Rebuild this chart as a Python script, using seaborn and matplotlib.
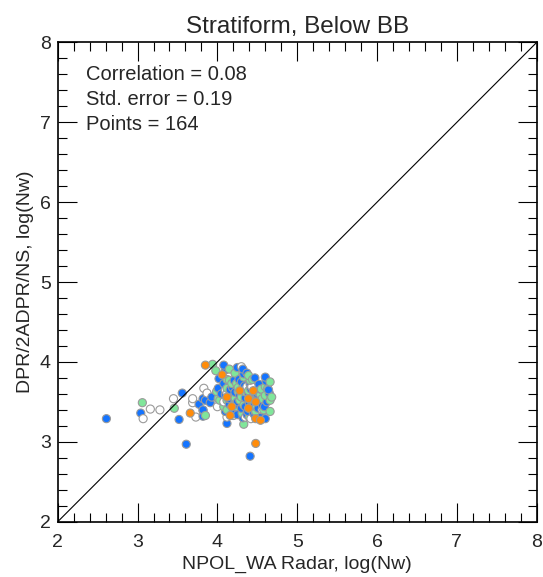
import matplotlib
matplotlib.use('AGG')
import matplotlib.pyplot as plt
import seaborn as sns
import pandas as pd
from matplotlib.ticker import MultipleLocator

# values, log(Nw)
white_x = [3.07, 3.16, 3.28, 3.45, 3.69, 3.69, 3.73, 3.83, 3.87, 4.43,
           4.10, 4.12, 4.08, 4.35, 4.42, 4.12, 4.30, 4.37, 4.20, 4.56, 4.00]
white_y = [3.29, 3.41, 3.40, 3.54, 3.54, 3.49, 3.31, 3.67, 3.61, 3.69,
           3.65, 3.61, 3.50, 3.31, 3.29, 3.31, 3.94, 3.69, 3.33, 3.40, 3.44]

blue_x = [2.61, 3.61, 4.41, 3.04, 3.52, 3.56, 3.82, 3.77, 3.82, 3.91,
          3.93, 4.08, 4.25, 4.32, 4.02, 4.33, 4.60, 4.61, 4.21, 4.30,
          4.41, 4.08, 4.37, 4.54, 4.65, 4.20, 4.43, 4.35, 4.10, 4.01,
          4.10, 3.85, 3.82, 4.10, 4.12, 4.14, 4.52, 4.39, 4.55, 4.62,
          4.43, 4.51, 4.20, 4.45, 4.25, 4.37, 4.55, 4.60, 4.37, 4.59,
          4.47, 4.64, 4.16, 4.26, 4.47,
          4.22, 4.28, 4.35, 4.40, 4.46, 4.30, 4.25, 4.18, 4.50, 4.42,
          4.34, 4.27, 4.19, 4.56, 4.38, 4.32, 4.47, 4.15, 4.52, 4.05]
blue_y = [3.29, 2.97, 2.82, 3.36, 3.28, 3.61, 3.32, 3.47, 3.54, 3.49,
          3.56, 3.96, 3.93, 3.91, 3.79, 3.85, 3.81, 3.76, 3.77, 3.75,
          3.72, 3.73, 3.67, 3.66, 3.61, 3.56, 3.50, 3.44, 3.90, 3.67,
          3.59, 3.52, 3.40, 3.38, 3.23, 3.54, 3.56, 3.61, 3.54, 3.50,
          3.44, 3.42, 3.38, 3.36, 3.34, 3.34, 3.31, 3.29, 3.86, 3.44,
          3.61, 3.65, 3.65, 3.47, 3.80,
          3.62, 3.58, 3.55, 3.48, 3.45, 3.42, 3.50, 3.58, 3.58, 3.66,
          3.70, 3.78, 3.68, 3.47, 3.38, 3.30, 3.33, 3.47, 3.72, 3.60]

green_x = [3.06, 3.46, 3.82, 3.94, 4.15, 3.98, 4.39, 4.15, 4.41, 4.24,
           3.99, 4.26, 4.49, 4.63, 4.28, 4.56, 4.66, 4.03, 4.24, 4.60,
           4.43, 4.68, 4.22, 4.12, 4.43, 4.47, 4.12, 4.31, 4.58, 4.66,
           4.33, 4.01, 4.12, 3.85, 4.33, 4.66, 4.39, 4.54, 4.49,
           4.20, 4.30, 4.36, 4.44, 4.26, 4.48, 4.18, 4.55, 4.33, 4.40,
           4.08, 4.60, 4.22, 4.44, 4.12]
green_y = [3.49, 3.42, 3.39, 3.97, 3.91, 3.89, 3.83, 3.77, 3.77, 3.73,
           3.63, 3.63, 3.60, 3.67, 3.52, 3.54, 3.52, 3.52, 3.44, 3.69,
           3.69, 3.56, 3.55, 3.52, 3.52, 3.40, 3.40, 3.36, 3.40, 3.38,
           3.22, 3.54, 3.67, 3.33, 3.81, 3.75, 3.64, 3.59, 3.44,
           3.46, 3.56, 3.62, 3.56, 3.68, 3.38, 3.73, 3.66, 3.46, 3.31,
           3.44, 3.58, 3.86, 3.78, 3.78]

orange_x = [4.48, 3.66, 3.85, 4.06, 4.45, 4.39, 4.48, 4.18, 4.39, 4.16,
            4.48, 4.54, 4.28, 4.12]
orange_y = [2.98, 3.36, 3.96, 3.84, 3.64, 3.54, 3.50, 3.44, 3.42, 3.33,
            3.29, 3.27, 3.64, 3.56]

stats_text = ['Correlation = 0.08', 'Std. error = 0.19', 'Points = 164']
axis_ticks = [2, 3, 4, 5, 6, 7, 8]

colors = {'white': '#ffffff', 'blue': '#1474ff', 'green': '#80e69a', 'orange': '#ff8c0a'}

frames = []
for name, xs, ys in [('white', white_x, white_y), ('blue', blue_x, blue_y),
                     ('green', green_x, green_y), ('orange', orange_x, orange_y)]:
  frames.append(pd.DataFrame({'npol': xs, 'dpr': ys, 'kind': name}))
data = pd.concat(frames, ignore_index=True)
# mix the colours in drawing order, orange stays on top
data['order'] = data['npol'] + data['dpr'] * 0.37
data.loc[data['kind'] == 'orange', 'order'] += 10
data = data.sort_values('order')

sns.set_style('ticks')
plt.rcParams['font.family'] = ['Liberation Sans', 'DejaVu Sans']

fig = plt.figure(figsize=(5.43, 5.77), dpi=100)
ax = fig.add_axes([0.1063, 0.0958, 0.8822, 0.8308])

sns.scatterplot(
  data=data, x='npol', y='dpr', hue='kind', palette=colors,
  s=34, edgecolor='#9a9a9a', linewidth=0.8, legend=False, ax=ax, zorder=2,
)
ax.plot(axis_ticks, axis_ticks, color='black', linewidth=0.8, zorder=3)

ax.set_xlim(2, 8)
ax.set_ylim(2, 8)
ax.set_xticks(axis_ticks)
ax.set_yticks(axis_ticks)
ax.xaxis.set_minor_locator(MultipleLocator(0.2))
ax.yaxis.set_minor_locator(MultipleLocator(0.2))
ax.tick_params(which='both', direction='in', top=True, right=True,
               labeltop=False, labelright=False, color='black', width=0.8)
ax.tick_params(which='major', length=13.5, labelsize=14)
ax.tick_params(which='minor', length=6.5)
ax.tick_params(axis='x', which='major', pad=9)
ax.tick_params(axis='y', which='major', pad=5)
for sp in ax.spines.values():
  sp.set_linewidth(1.2)
  sp.set_color('black')

ax.set_xlabel('NPOL_WA Radar, log(Nw)', fontsize=14, labelpad=3)
ax.set_ylabel('DPR/2ADPR/NS, log(Nw)', fontsize=14, labelpad=4)
ax.set_title('Stratiform, Below BB', fontsize=17.5, pad=7)

for i, line in enumerate(stats_text):
  ax.text(0.059, 0.921 - i * 0.052, line, transform=ax.transAxes,
          fontsize=14.5, va='baseline', ha='left')

fig.savefig('out.png', dpi=100)
